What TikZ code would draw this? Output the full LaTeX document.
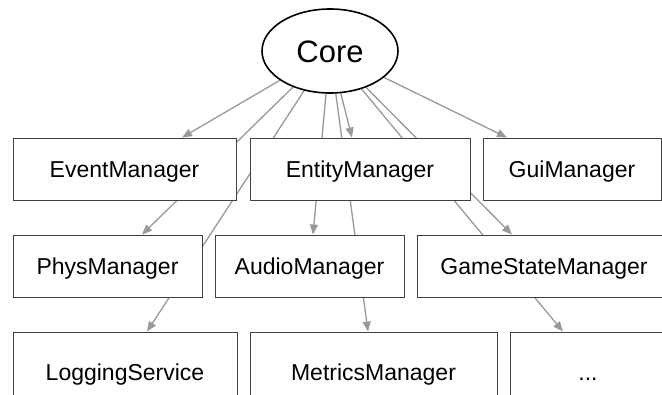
\documentclass[tikz,border=0pt]{standalone}
\usepackage{fontspec}
\setmainfont{Liberation Sans}
\usetikzlibrary{shapes.geometric,arrows.meta,backgrounds,calc}
\begin{document}
\begin{tikzpicture}[x=1pt,y=-1pt,
  box/.style={draw=black!75, line width=0.9pt, fill=white, rectangle, inner sep=0pt,
    minimum height=62pt, font=\fontsize{23}{26}\selectfont, text height=16.5pt, text depth=0pt},
  edge/.style={draw=black!40, line width=1.3pt, -{Triangle[length=10pt,width=8pt]}}]
\useasboundingbox (0,0) rectangle (662,394);
\clip (0,0) rectangle (662,394);
\node[ellipse, draw, line width=1.6pt, fill=white, minimum width=136pt, minimum height=84pt,
  inner sep=0pt, font=\fontsize{31}{34}\selectfont, text height=22pt, text depth=0pt] (core) at (330,51) {Core};
% row 1
\node[box, minimum width=223pt] (ev)  at (124.5,169) {EventManager};
\node[box, minimum width=220pt] (ent) at (360,169) {EntityManager};
\node[box, minimum width=178pt] (gui) at (572,169) {GuiManager};
% row 2
\node[box, minimum width=189pt] (phys)  at (107.5,266) {PhysManager};
\node[box, minimum width=189pt] (audio) at (309.5,266) {AudioManager};
\node[box, minimum width=254pt] (gsm)   at (544,266) {GameStateManager};
% row 3
\node[box, minimum width=224pt, minimum height=80pt] (log)  at (125,372) {LoggingService};
\node[box, minimum width=247pt, minimum height=80pt] (met)  at (373.5,372) {MetricsManager};
\node[box, minimum width=156pt, minimum height=80pt] (dots) at (588,372) {...};
\begin{pgfonlayer}{background}
\draw[edge] (core) -- ($(ev.north)+(57.5,0)$);
\draw[edge] (core) -- ($(ent.north)+(-8,0)$);
\draw[edge] (core) -- ($(gui.north)+(-65,0)$);
\draw[edge] (core) -- ($(phys.north)+(34.5,0)$);
\draw[edge] (core) -- ($(audio.north)+(3.5,0)$);
\draw[edge] (core) -- ($(gsm.north)+(-32,0)$);
\draw[edge] (core) -- ($(log.north)+(22,0)$);
\draw[edge] (core) -- ($(met.north)+(-5.5,0)$);
\draw[edge] (core) -- ($(dots.north)+(-25,0)$);
\end{pgfonlayer}
\end{tikzpicture}
\end{document}
